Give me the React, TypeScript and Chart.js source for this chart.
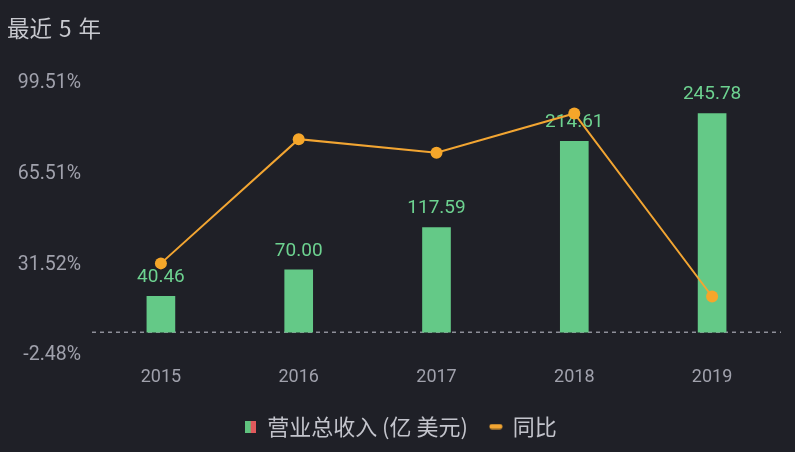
import React, { useEffect, useRef } from "react";
import { Chart, registerables } from "chart.js";

Chart.register(...registerables);

const titleText = "最近 5 年";
const years = ["2015", "2016", "2017", "2018", "2019"];
const revenue = [40.46, 70.0, 117.59, 214.61, 245.78];
const yoy = [32.0, 78.5, 73.4, 88.1, 19.6];
const yoyTicks = [-2.48, 31.52, 65.51, 99.51];
const revenueLabel = "营业总收入 (亿 美元)";
const yoyLabel = "同比";

const BG = "#1f2027";
const GREEN = "#64c987";
const LABEL_GREEN = "#6dd290";
const ORANGE = "#f2a532";
const TICK = "#a0a1ac";
const NUM_FONT = "Roboto, 'Noto Sans', sans-serif";
const CJK_FONT = "'Noto Sans CJK SC', 'Noto Sans', sans-serif";

function makeBarIcon(): HTMLCanvasElement {
  const c = document.createElement("canvas");
  c.width = 11;
  c.height = 12;
  const g = c.getContext("2d")!;
  g.fillStyle = "#5fc27e";
  g.fillRect(0, 0, 6, 12);
  g.fillStyle = "#e0595c";
  g.fillRect(6, 0, 5, 12);
  return c;
}

function makeLineIcon(): HTMLCanvasElement {
  const c = document.createElement("canvas");
  c.width = 14;
  c.height = 6;
  const g = c.getContext("2d")!;
  g.strokeStyle = ORANGE;
  g.lineWidth = 5;
  g.lineCap = "round";
  g.beginPath();
  g.moveTo(3, 3);
  g.lineTo(11, 3);
  g.stroke();
  return c;
}

const zeroLinePlugin = {
  id: "zeroLine",
  beforeDatasetsDraw(chart: any) {
    const scale = chart.scales.yBar;
    const y = scale.getPixelForValue(0);
    const { left, right } = chart.chartArea;
    const ctx = chart.ctx;
    ctx.save();
    ctx.strokeStyle = "#8e8f99";
    ctx.lineWidth = 1.5;
    ctx.setLineDash([4, 4]);
    ctx.beginPath();
    ctx.moveTo(left, y);
    ctx.lineTo(right, y);
    ctx.stroke();
    ctx.restore();
  },
};

const barLabelPlugin = {
  id: "barLabels",
  afterDatasetDraw(chart: any, args: any) {
    if (args.index !== 0) return;
    const ctx = chart.ctx;
    ctx.save();
    ctx.font = `19px ${NUM_FONT}`;
    ctx.fillStyle = LABEL_GREEN;
    ctx.textAlign = "center";
    ctx.textBaseline = "middle";
    args.meta.data.forEach((el: any, i: number) => {
      ctx.fillText(revenue[i].toFixed(2), el.x, el.y - 19);
    });
    ctx.restore();
  },
};

const legendShiftPlugin = {
  id: "legendShift",
  afterLayout(chart: any) {
    if (chart.legend) {
      chart.legend.left = 20;
    }
  },
};

export default function App() {
  const ref = useRef<HTMLCanvasElement | null>(null);

  useEffect(() => {
    document.body.style.margin = "0";
    document.body.style.background = BG;
    const barIcon = makeBarIcon();
    const lineIcon = makeLineIcon();
    const chart = new Chart(ref.current!, {
      type: "bar",
      data: {
        labels: years,
        datasets: [
          {
            type: "bar",
            label: revenueLabel,
            data: revenue,
            backgroundColor: GREEN,
            barThickness: 28,
            yAxisID: "yBar",
            order: 2,
          },
          {
            type: "line",
            label: yoyLabel,
            data: yoy,
            borderColor: ORANGE,
            backgroundColor: ORANGE,
            borderWidth: 2,
            pointRadius: 6,
            pointBackgroundColor: "#f5a62a",
            pointBorderWidth: 0,
            tension: 0,
            yAxisID: "y",
            order: 1,
          } as any,
        ],
      },
      options: {
        animation: false,
        responsive: false,
        maintainAspectRatio: false,
        layout: { padding: { top: 83, right: 14, bottom: 4.5, left: 0 } },
        scales: {
          x: {
            offset: true,
            grid: { display: false, drawTicks: false },
            border: { display: false },
            ticks: {
              color: TICK,
              font: { size: 18, family: NUM_FONT },
              padding: 11,
            },
            afterFit: (s: any) => {
              s.height = 38;
            },
          },
          y: {
            position: "left",
            min: -2.48,
            max: 99.51,
            grid: { display: false, drawTicks: false },
            border: { display: false },
            afterBuildTicks: (s: any) => {
              s.ticks = yoyTicks.map((v) => ({ value: v }));
            },
            ticks: {
              color: TICK,
              font: { size: 19.5, family: NUM_FONT },
              padding: 11,
              callback: (v: any) => Number(v).toFixed(2) + "%",
            },
            afterFit: (s: any) => {
              s.width = 92;
            },
          },
          yBar: {
            display: false,
            position: "right",
            min: -26.1,
            max: 280,
          },
        },
        plugins: {
          title: { display: false },
          tooltip: { enabled: false },
          legend: {
            display: true,
            position: "bottom",
            labels: {
              color: "#c3c4cc",
              font: { size: 22, family: CJK_FONT },
              usePointStyle: true,
              boxWidth: 12,
              padding: 22,
              generateLabels: (chart: any) => {
                const items = (Chart.defaults.plugins.legend.labels as any)
                  .generateLabels(chart)
                  .sort((a: any, b: any) => a.datasetIndex - b.datasetIndex);
                items.forEach((it: any) => {
                  it.pointStyle = it.datasetIndex === 0 ? barIcon : lineIcon;
                  it.fontColor = "#c3c4cc";
                });
                return items;
              },
            },
          },
        },
      },
      plugins: [zeroLinePlugin, barLabelPlugin, legendShiftPlugin],
    });
    return () => chart.destroy();
  }, []);

  return (
    <div
      style={{
        position: "fixed",
        left: 0,
        top: 0,
        width: 795,
        height: 452,
        background: BG,
        overflow: "hidden",
      }}
    >
      <div
        style={{
          position: "absolute",
          left: 7,
          top: 16,
          fontSize: 22.5,
          lineHeight: "23px",
          color: "#c8c9cf",
          fontFamily: CJK_FONT,
          whiteSpace: "pre",
          wordSpacing: 2,
        }}
      >
        {titleText}
      </div>
      <canvas ref={ref} width={795} height={452} style={{ display: "block" }} />
    </div>
  );
}
